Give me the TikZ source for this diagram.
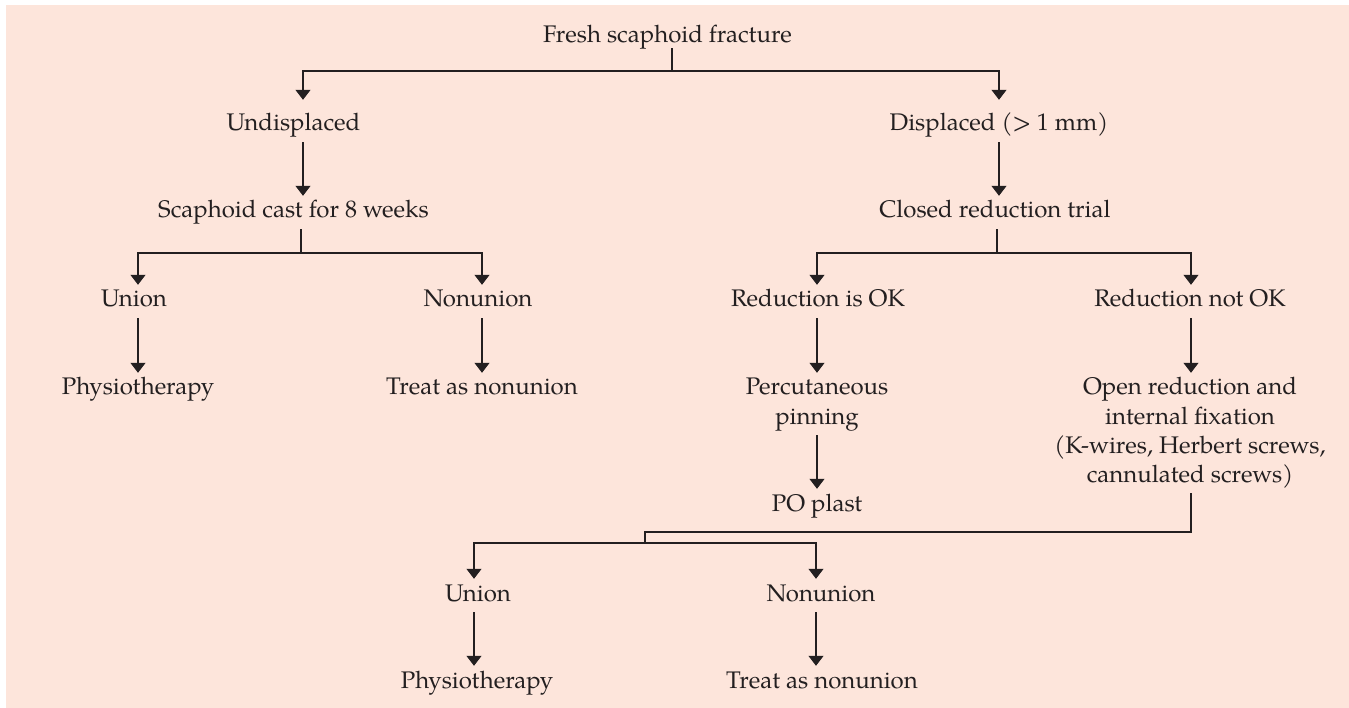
\documentclass[tikz,border=0pt]{standalone}
\usepackage{fontspec}
\setmainfont{TeX Gyre Pagella}
\usetikzlibrary{arrows.meta,calc}
\definecolor{bgpink}{RGB}{253,229,219}
\definecolor{ink}{RGB}{35,31,32}
\tikzset{
  txt/.style={anchor=base, inner xsep=0pt, inner ysep=6pt, text height=16pt, text depth=5pt,
    font=\fontsize{24}{28}\selectfont, text=ink},
  conn/.style={draw=ink, line width=1.1pt},
  arr/.style={conn, -{Triangle[width=15pt,length=10pt]}}
}
\begin{document}
\begin{tikzpicture}[x=1pt,y=-1pt]
\useasboundingbox (0,0) rectangle (1349,708);
\fill[bgpink] (6,5) rectangle (1349,708);
% column references
\coordinate (xL) at (303,0);
\coordinate (xR) at (999,0);
\coordinate (xLL) at (138,0);
\coordinate (xLR) at (482,0);
\coordinate (xRL) at (817,0);
\coordinate (xRR) at (1191,0);
\coordinate (xBL) at (474,0);
\coordinate (xBR) at (816,0);
% branch points
\coordinate (b0) at (672,71);
\coordinate (b1) at (301,253);
\coordinate (b2) at (997,253);
\coordinate (b3) at (645,532);
\coordinate (b4) at (645,543);
% texts
\node[txt] (fresh) at (667.5,43) {Fresh scaphoid fracture};
\node[txt] (undisp) at (293.5,131) {Undisplaced};
\node[txt] (disp) at (999,131) {Displaced (> 1 mm)};
\node[txt] (cast) at (293.5,218) {Scaphoid cast for 8 weeks};
\node[txt] (closed) at (995,218) {Closed reduction trial};
\node[txt] (union1) at (134,307) {Union};
\node[txt] (nonunion1) at (478,307) {Nonunion};
\node[txt] (redok) at (818,307) {Reduction is OK};
\node[txt] (rednot) at (1190,307) {Reduction not OK};
\node[txt] (physio1) at (138,395) {Physiotherapy};
\node[txt] (treat1) at (482,395) {Treat as nonunion};
\node[txt] (perc1) at (817,395) {Percutaneous};
\node[txt] (perc2) at (817,424) {pinning};
\node[txt] (open1) at (1190,395) {Open reduction and};
\node[txt] (open2) at (1190,424) {internal fixation};
\node[txt] (open3) at (1190,453) {(K-wires, Herbert screws,};
\node[txt] (open4) at (1190,482) {cannulated screws)};
\node[txt] (poplast) at (817,511) {PO plast};
\node[txt] (union2) at (478,601) {Union};
\node[txt] (nonunion2) at (821,601) {Nonunion};
\node[txt] (physio2) at (477,688) {Physiotherapy};
\node[txt] (treat2) at (822,688) {Treat as nonunion};
% connectors
\draw[conn, shorten <=-6pt] (fresh.south -| b0) -- (b0);
\draw[arr, shorten >=9pt] (b0) -| (undisp.north -| xL);
\draw[arr, shorten >=9pt] (b0) -| (disp.north -| xR);
\draw[arr] (undisp.south -| xL) -- (cast.north -| xL);
\draw[arr] (disp.south -| xR) -- (closed.north -| xR);
\draw[conn] (cast.south -| b1) -- (b1);
\draw[arr] (b1) -| (union1.north -| xLL);
\draw[arr] (b1) -| (nonunion1.north -| xLR);
\draw[conn] (closed.south -| b2) -- (b2);
\draw[arr] (b2) -| (redok.north -| xRL);
\draw[arr] (b2) -| (rednot.north -| xRR);
\draw[arr] (union1.south -| xLL) -- (physio1.north -| xLL);
\draw[arr] (nonunion1.south -| xLR) -- (treat1.north -| xLR);
\draw[arr] (redok.south -| xRL) -- (perc1.north -| xRL);
\draw[arr] (rednot.south -| xRR) -- (open1.north -| xRR);
\draw[arr] (perc2.south -| xRL) -- (poplast.north -| xRL);
\draw[conn] (open4.south -| xRR) |- (b3) -- (b4);
\draw[arr] (b4) -| (union2.north -| xBL);
\draw[arr] (b4) -| (nonunion2.north -| xBR);
\draw[arr] (union2.south -| xBL) -- (physio2.north -| xBL);
\draw[arr] (nonunion2.south -| xBR) -- (treat2.north -| xBR);
\end{tikzpicture}
\end{document}
